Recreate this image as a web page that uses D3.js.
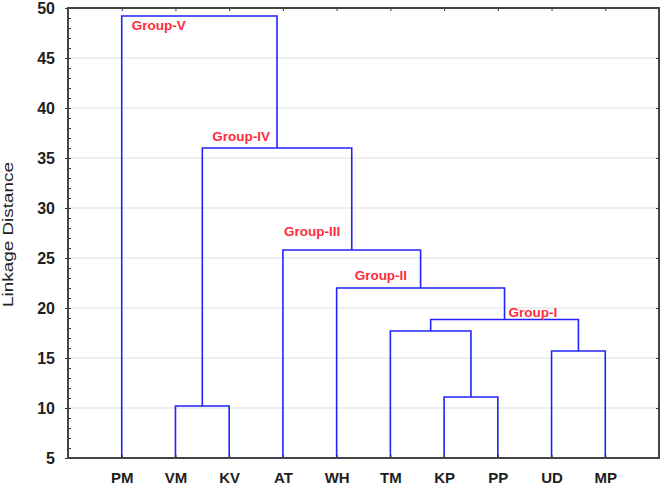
<!DOCTYPE html>
<html lang="en">
<head>
<meta charset="UTF-8">
<script src="https://cdn.jsdelivr.net/npm/d3@7/dist/d3.min.js"></script>
<title>Dendrogram</title>
<style>
    body { margin: 0; background: #fff; }
    svg text { font-family: "Liberation Sans", Arial, sans-serif; }
    .tick text { font-weight: bold; fill: #1e1e1e; }
    .tick line { stroke: #333; }
</style>
</head>
<body>
<svg id="chart" width="662" height="484"></svg>
<script>
    // leaves, left to right
    var leaves = ["PM", "VM", "KV", "AT", "WH", "TM", "KP", "PP", "UD", "MP"];
    // merges in order of height; a child is a leaf or an earlier merge
    var mergeNames  = ["m1", "m2", "m3", "m4", "Group-I", "Group-II", "Group-III", "Group-IV", "Group-V"];
    var mergeLeft   = ["VM", "KP", "UD", "TM", "m4", "WH", "AT", "m1", "PM"];
    var mergeRight  = ["KV", "PP", "MP", "m2", "m3", "Group-I", "Group-II", "Group-III", "Group-IV"];
    var mergeHeight = [10.2, 11.1, 15.7, 17.7, 18.85, 22.0, 25.8, 36.0, 49.2];
    var yTicks = [5, 10, 15, 20, 25, 30, 35, 40, 45, 50];

    var svg = d3.select("#chart"),
        pLeft = 68, pRight = 659, pTop = 8, pBottom = 458;

    var x = d3.scalePoint().domain(leaves).range([pLeft, pRight]).padding(1),
        y = d3.scaleLinear().domain([5, 50]).range([pBottom, pTop]);

    // grid
    svg.append("g").selectAll("line")
        .data(yTicks.slice(1, -1))
        .join("line")
        .attr("x1", pLeft).attr("x2", pRight)
        .attr("y1", d => y(d)).attr("y2", d => y(d))
        .attr("stroke", "#e8e8e8").attr("stroke-width", 1.5);

    // node positions
    var pos = {};
    leaves.forEach(function(l) { pos[l] = {x: x(l), h: 5}; });
    mergeNames.forEach(function(n, i) {
        var a = pos[mergeLeft[i]], b = pos[mergeRight[i]];
        pos[n] = {x: (a.x + b.x) / 2, h: mergeHeight[i], lx: a.x};
    });

    svg.append("g").selectAll("path")
        .data(mergeNames)
        .join("path")
        .attr("d", function(n, i) {
            var a = pos[mergeLeft[i]], b = pos[mergeRight[i]];
            return "M" + a.x + "," + y(a.h) + "V" + y(mergeHeight[i]) +
                   "H" + b.x + "V" + y(b.h);
        })
        .attr("fill", "none")
        .attr("stroke", "#2222ff")
        .attr("stroke-width", 1.6);

    // group labels, offsets from the merge
    var labelOffset = {
        "Group-I":   {base: "x",  dx: 4,  dy: -3},
        "Group-II":  {base: "lx", dx: 18, dy: -8},
        "Group-III": {base: "lx", dx: 1,  dy: -14},
        "Group-IV":  {base: "lx", dx: 10, dy: -7},
        "Group-V":   {base: "lx", dx: 10, dy: 14}
    };
    svg.append("g").selectAll("text")
        .data(Object.keys(labelOffset))
        .join("text")
        .attr("x", d => pos[d][labelOffset[d].base] + labelOffset[d].dx)
        .attr("y", d => y(pos[d].h) + labelOffset[d].dy)
        .attr("font-size", "13.5px")
        .attr("font-weight", "bold")
        .attr("fill", "#ff2b3b")
        .text(d => d);

    // axes
    var gl = svg.append("g").attr("transform", "translate(" + pLeft + ",0)")
        .call(d3.axisLeft(y).tickValues(yTicks).tickSize(3).tickPadding(10));
    gl.selectAll("text").attr("font-size", "16px");
    svg.append("g").attr("transform", "translate(" + pLeft + ",0)")
        .call(d3.axisLeft(y).tickValues(d3.range(5, 51)).tickSize(-3).tickFormat(""));
    svg.append("g").attr("transform", "translate(" + pRight + ",0)")
        .call(d3.axisRight(y).tickValues(yTicks).tickSize(-3).tickFormat(""));
    var gb = svg.append("g").attr("transform", "translate(0," + pBottom + ")")
        .call(d3.axisBottom(x).tickSize(-3).tickPadding(14));
    gb.selectAll("text").attr("font-size", "15px");
    svg.append("g").attr("transform", "translate(0," + pTop + ")")
        .call(d3.axisTop(x).tickSize(-3).tickFormat(""));
    svg.selectAll(".domain").remove();

    svg.append("rect")
        .attr("x", pLeft).attr("y", pTop)
        .attr("width", pRight - pLeft).attr("height", pBottom - pTop)
        .attr("fill", "none").attr("stroke", "#444").attr("stroke-width", 2);

    svg.append("text")
        .attr("transform", "translate(13," + ((162 + 307) / 2) + ") rotate(-90)")
        .attr("text-anchor", "middle")
        .attr("font-size", "14px")
        .attr("fill", "#222")
        .attr("textLength", 145)
        .attr("lengthAdjust", "spacingAndGlyphs")
        .text("Linkage Distance");
</script>
</body>
</html>
